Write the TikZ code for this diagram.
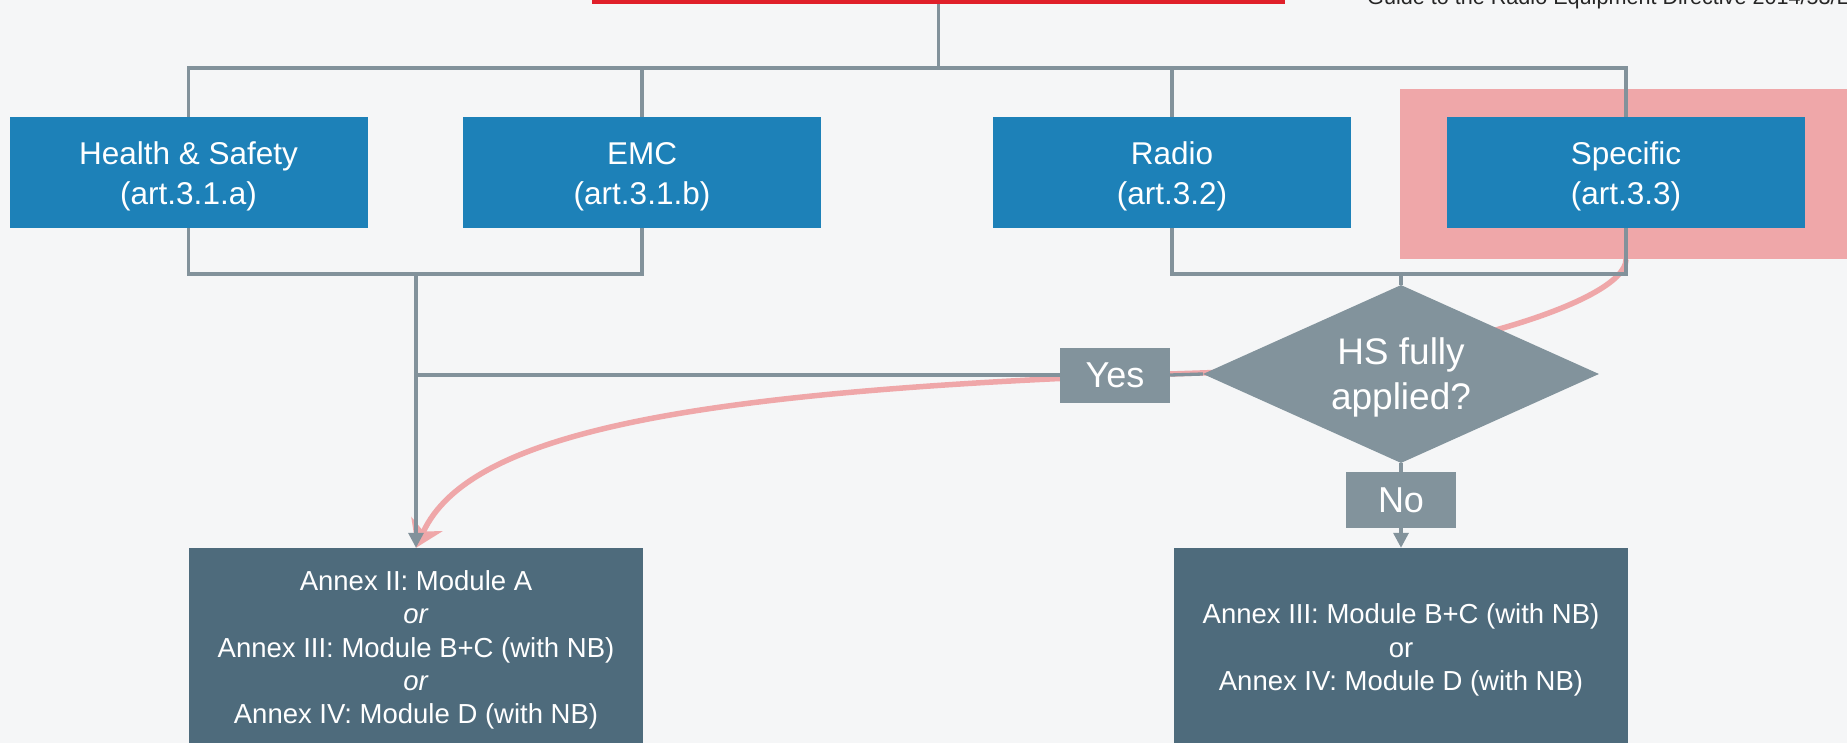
\documentclass[tikz,border=0pt]{standalone}
\usepackage{fontspec}
\setmainfont{Liberation Sans}
\usetikzlibrary{shapes.geometric,arrows.meta,calc}
\definecolor{boxblue}{RGB}{29,129,184}
\definecolor{linegray}{RGB}{130,146,155}
\definecolor{diagray}{RGB}{130,147,156}
\definecolor{annexc}{RGB}{78,107,124}
\definecolor{pinkc}{RGB}{239,167,169}
\definecolor{redbar}{RGB}{224,32,42}
\definecolor{bgc}{RGB}{245,246,247}
\pgfdeclarelayer{bg}
\pgfdeclarelayer{mid}
\pgfsetlayers{bg,mid,main}
\newcommand\tstrut[1]{\rule{0pt}{#1}}
\begin{document}
\begin{tikzpicture}[x=1pt,y=-1pt,
  cat/.style={rectangle, fill=boxblue, text=white, minimum width=358pt, minimum height=111pt,
    inner sep=0pt, align=center, font=\fontsize{31.5}{40}\selectfont},
  annex/.style={rectangle, fill=annexc, text=white, minimum width=454pt, minimum height=204pt,
    inner sep=0pt, align=center, font=\fontsize{27.5}{33.3}\selectfont},
  lab/.style={rectangle, fill=diagray, text=white, minimum width=110pt, minimum height=55pt,
    inner sep=0pt, font=\fontsize{36}{40}\selectfont},
  conn/.style={draw=linegray, line width=3.3pt},
  pinkline/.style={draw=pinkc, line width=5.5pt, -{Stealth[length=26pt,width=34pt,inset=8pt]}},
  arr/.style={-{Triangle[length=15pt,width=15pt]}}
]
\useasboundingbox (0,0) rectangle (1847,743);
\clip (0,0) rectangle (1847,743);
\begin{pgfonlayer}{bg}
  \fill[bgc] (0,0) rectangle (1847,743);
  \node[fill=pinkc, minimum width=470pt, minimum height=170pt, inner sep=0pt, anchor=north west] (hl) at (1400,89) {};
\end{pgfonlayer}

% title remnants
\node[fill=redbar, minimum width=693pt, minimum height=4pt, inner sep=0pt, anchor=south] (title) at (938.5,4) {};
\node[anchor=base west, inner sep=0pt, text=black!85, font=\fontsize{21.6}{26}\selectfont] (guide) at (1367,5) {Guide to the Radio Equipment Directive 2014/53/EU};

% category boxes
\node[cat] (hs) at (188.5,172.5) {\tstrut{31pt}Health \& Safety\\(art.3.1.a)};
\node[cat] (emc) at (642,172.5) {\tstrut{31pt}EMC\\(art.3.1.b)};
\node[cat] (radio) at (1172,172.5) {\tstrut{31pt}Radio\\(art.3.2)};
\node[cat] (spec) at (1626,172.5) {\tstrut{31pt}Specific\\(art.3.3)};

% decision
\node[diamond, fill=diagray, text=white, minimum width=396pt, minimum height=178pt, aspect=2.2,
  inner sep=0pt, align=center, font=\fontsize{37}{45}\selectfont] (dia) at (1401,374) {\tstrut{33pt}HS fully\\applied?};
\node[lab] (yes) at (1115,375) {Yes};
\node[lab, minimum height=56pt] (no) at (1401,500) {No};

% annex boxes
\node[annex] (annexL) at (416,650) {Annex II: Module A\\\textit{or}\\Annex III: Module B+C (with NB)\\\textit{or}\\Annex IV: Module D (with NB)};
\node[annex] (annexR) at (1401,650) {Annex III: Module B+C (with NB)\\or\\Annex IV: Module D (with NB)};

\coordinate (bus) at (938.5,68);
\coordinate (jl) at (416,274);
\coordinate (jr) at (1401,274);
\coordinate (ps) at (spec.south |- hl.south);

\begin{pgfonlayer}{mid}
  \draw[pinkline] (ps) .. controls ($(ps)+(0,44)$) and (1420,366) .. (1200,373)
     .. controls (700,389) and (470,430) .. (annexL.north);
  \draw[conn] (title.south) -- (bus);
  \draw[conn] (hs.north) -- (hs.north |- bus) -- (spec.north |- bus) -- (spec.north);
  \draw[conn] (emc.north) -- (emc.north |- bus);
  \draw[conn] (radio.north) -- (radio.north |- bus);
  \draw[conn] (hs.south) -- (hs.south |- jl) -- (emc.south |- jl) -- (emc.south);
  \draw[conn] (radio.south) -- (radio.south |- jr) -- (spec.south |- jr) -- (spec.south);
  \draw[conn] (jr) -- (dia.north);
  \draw[conn, arr] (jl) -- (annexL.north);
  \draw[conn] (dia.west) -- (yes.east);
  \draw[conn] (yes.west) -- (yes.west -| jl);
  \draw[conn] (dia.south) -- (no.north);
  \draw[conn, arr] (no.south) -- (annexR.north);
\end{pgfonlayer}
\end{tikzpicture}
\end{document}
